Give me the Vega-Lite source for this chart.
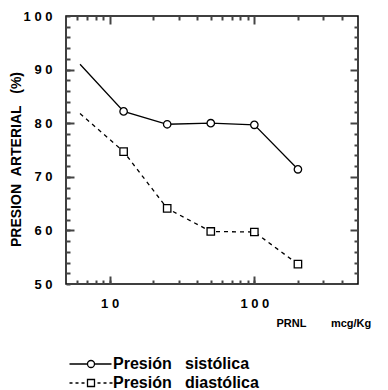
{
  "$schema": "https://vega.github.io/schema/vega-lite/v6.json",
  "autosize": "none",
  "width": 292,
  "height": 268,
  "padding": {"left": 66, "top": 16, "right": 30, "bottom": 106},
  "background": "white",
  "config": {
    "view": {"stroke": "black", "strokeWidth": 1.5},
    "font": "Liberation Sans",
    "axis": {"grid": false, "domain": false, "labelColor": "black", "titleColor": "black", "labelFont": "Liberation Sans", "titleFont": "Liberation Sans", "labelFontWeight": "bold", "titleFontWeight": "bold"}
  },
  "data": {
    "values": [
      {"serie": "Presión sistólica", "dosis": 6.25, "presion": 91.0},
      {"serie": "Presión sistólica", "dosis": 12.5, "presion": 82.2},
      {"serie": "Presión sistólica", "dosis": 25, "presion": 79.8},
      {"serie": "Presión sistólica", "dosis": 50, "presion": 80.0},
      {"serie": "Presión sistólica", "dosis": 100, "presion": 79.7},
      {"serie": "Presión sistólica", "dosis": 200, "presion": 71.4},
      {"serie": "Presión diastólica", "dosis": 6.25, "presion": 81.8},
      {"serie": "Presión diastólica", "dosis": 12.5, "presion": 74.7},
      {"serie": "Presión diastólica", "dosis": 25, "presion": 64.1},
      {"serie": "Presión diastólica", "dosis": 50, "presion": 59.8},
      {"serie": "Presión diastólica", "dosis": 100, "presion": 59.7},
      {"serie": "Presión diastólica", "dosis": 200, "presion": 53.7}
    ]
  },
  "resolve": {"axis": {"x": "independent", "y": "independent"}},
  "layer": [
    {
      "transform": [{"filter": "datum.serie == 'Presión sistólica'"}],
      "mark": {"type": "line", "color": "black", "strokeWidth": 1.3},
      "encoding": {
        "x": {"field": "dosis", "type": "quantitative",
          "scale": {"type": "log", "domain": [5, 520], "nice": false},
          "axis": {"orient": "bottom", "tickSize": -4, "tickColor": "#444444", "tickOpacity": 1, "tickWidth": 2,
            "values": [6, 7, 8, 9, 10, 20, 30, 40, 50, 60, 70, 80, 90, 100, 200, 300, 400],
            "labelExpr": "datum.value == 10 || datum.value == 100 ? join(split(datum.label, ''), ' ') : ''",
            "labelFontSize": 13, "labelPadding": 17, "labelFlush": false, "labelOverlap": false,
            "title": "PRNL\u00a0\u00a0\u00a0\u00a0\u00a0\u00a0\u00a0\u00a0mcg/Kg", "titleFontSize": 11, "titleX": 210, "titleY": 39, "titleAlign": "left", "titleBaseline": "middle"}},
        "y": {"field": "presion", "type": "quantitative",
          "scale": {"domain": [50, 100], "nice": false, "zero": false},
          "axis": {"orient": "left", "tickSize": -4, "tickColor": "#444444", "tickOpacity": 1, "tickWidth": 2,
            "values": [50, 52, 54, 56, 58, 60, 62, 64, 66, 68, 70, 72, 74, 76, 78, 80, 82, 84, 86, 88, 90, 92, 94, 96, 98, 100],
            "labelExpr": "datum.value % 10 == 0 ? join(split(datum.label, ''), ' ') : ''",
            "labelFontSize": 13, "labelPadding": 18, "labelOverlap": false, "labelFlush": false,
            "title": "PRESION\u00a0\u00a0ARTERIAL\u00a0\u00a0\u00a0(%)", "titleFontSize": 14, "titleX": -50, "titleY": 143, "titleAngle": -90, "titleAlign": "center", "titleBaseline": "middle"}}
      }
    },
    {
      "transform": [{"filter": "datum.serie == 'Presión diastólica'"}],
      "mark": {"type": "line", "color": "black", "strokeWidth": 1.3, "strokeDash": [4, 4]},
      "encoding": {
        "x": {"field": "dosis", "type": "quantitative",
          "axis": {"orient": "top", "labels": false, "title": null, "tickSize": -4, "tickColor": "#444444", "tickOpacity": 1, "tickWidth": 2,
            "values": [6, 7, 8, 9, 20, 30, 40, 50, 60, 70, 80, 90, 200, 300, 400]}},
        "y": {"field": "presion", "type": "quantitative",
          "axis": {"orient": "right", "labels": false, "title": null, "tickSize": -4, "tickColor": "#444444", "tickOpacity": 1, "tickWidth": 2,
            "values": [52, 54, 56, 58, 62, 64, 66, 68, 72, 74, 76, 78, 82, 84, 86, 88, 92, 94, 96, 98]}}
      }
    },
    {
      "transform": [{"filter": "datum.dosis >= 10 && datum.serie == 'Presión sistólica'"}],
      "mark": {"type": "point", "shape": "circle", "filled": true, "fill": "white", "stroke": "black", "strokeWidth": 1.3, "size": 55, "opacity": 1},
      "encoding": {
        "x": {"field": "dosis", "type": "quantitative",
          "axis": {"orient": "bottom", "labels": false, "title": null, "values": [10, 100], "tickSize": -8, "tickColor": "#444444", "tickOpacity": 1, "tickWidth": 2}},
        "y": {"field": "presion", "type": "quantitative",
          "axis": {"orient": "left", "labels": false, "title": null, "values": [60, 70, 80, 90], "tickSize": -8, "tickColor": "#444444", "tickOpacity": 1, "tickWidth": 2}}
      }
    },
    {
      "transform": [{"filter": "datum.dosis >= 10 && datum.serie == 'Presión diastólica'"}],
      "mark": {"type": "point", "shape": "square", "filled": true, "fill": "white", "stroke": "black", "strokeWidth": 1.3, "size": 55, "opacity": 1},
      "encoding": {
        "x": {"field": "dosis", "type": "quantitative",
          "axis": {"orient": "top", "labels": false, "title": null, "values": [10, 100], "tickSize": -8, "tickColor": "#444444", "tickOpacity": 1, "tickWidth": 2}},
        "y": {"field": "presion", "type": "quantitative",
          "axis": {"orient": "right", "labels": false, "title": null, "values": [60, 70, 80, 90], "tickSize": -8, "tickColor": "#444444", "tickOpacity": 1, "tickWidth": 2}}
      }
    },
    {
      "transform": [{"filter": "datum.dosis >= 10"}],
      "mark": {"type": "point", "filled": false, "color": "black", "strokeWidth": 1.3, "opacity": 0},
      "encoding": {
        "x": {"field": "dosis", "type": "quantitative", "axis": null},
        "y": {"field": "presion", "type": "quantitative", "axis": null},
        "shape": {"field": "serie", "type": "nominal",
          "scale": {"domain": ["Presión sistólica", "Presión diastólica"],
            "range": ["M-4.3,0L-0.7,0M0.7,0L4.1,0M-0.7,0A0.7,0.7,0,1,0,0.7,0A0.7,0.7,0,1,0,-0.7,0",
                      "M-4.3,0L-3.7,0M-3.1,0L-2.5,0M-1.9,0L-1.3,0M-0.7,-0.7L0.7,-0.7L0.7,0.7L-0.7,0.7ZM1.3,0L1.9,0M2.5,0L3.1,0M3.7,0L4.3,0"]},
          "legend": {
            "orient": "none", "legendX": 17, "legendY": 340, "title": null,
            "symbolSize": 100, "symbolStrokeColor": "black", "symbolStrokeWidth": 1.3, "symbolOpacity": 1,
            "labelFont": "Liberation Sans", "labelFontWeight": "bold", "labelFontSize": 16, "labelColor": "black",
            "labelOffset": 14, "rowPadding": 3, "labelLimit": 300,
            "labelExpr": "replace(datum.label, ' ', '\u00a0\u00a0\u00a0')"
          }}
      }
    }
  ]
}
